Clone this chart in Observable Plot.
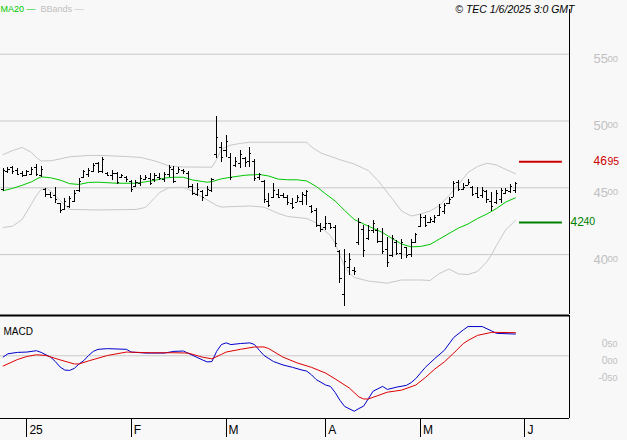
<!DOCTYPE html>
<html><head><meta charset="utf-8">
<script src="https://cdn.jsdelivr.net/npm/d3@7"></script>
<script src="https://cdn.jsdelivr.net/npm/@observablehq/plot@0.6"></script>
<style>
html,body{margin:0;padding:0;background:#f8f8f8;}
#wrap{position:relative;width:627px;height:440px;overflow:hidden;background:#f8f8f8;font-family:"Liberation Sans",Arial,sans-serif;}
#wrap svg{position:absolute;left:0;overflow:visible;}
</style></head><body><div id="wrap"></div>
<script>
// ---- OHLC (EUR), one entry per trading day, 23 Dec 2024 .. 30 May 2025 ----
const high = [46.42,46.54,46.62,46.42,46.22,46.29,46.54,46.72,46.59,44.93,
44.65,45.02,43.82,44.2,44.35,44.8,45.7,46.29,46.44,46.82,
46.89,47.27,46.15,46.29,46.15,46.0,45.85,45.55,45.55,45.92,
45.92,46.09,46.09,46.07,46.17,46.67,46.59,46.54,46.37,46.24,
45.25,45.34,44.8,45.1,45.7,50.34,48.41,48.91,47.54,47.29,
47.79,47.29,47.99,47.1,46.09,45.55,44.55,45.34,44.85,44.55,
44.42,44.18,44.42,44.67,44.8,43.68,43.43,42.3,42.85,42.35,
42.18,40.31,40.36,40.06,39.06,42.68,42.18,42.18,42.55,41.93,
41.93,41.3,41.43,41.06,41.11,40.55,41.11,41.6,43.0,42.93,
42.75,42.93,43.73,43.85,44.25,45.47,45.55,45.3,45.6,45.1,
45.0,45.0,44.8,44.67,44.8,44.93,44.93,45.25,45.42];
const low = [44.75,46.05,46.0,45.92,45.75,45.85,45.9,45.85,45.79,44.25,
44.2,43.82,43.08,43.3,43.45,43.9,44.65,45.7,45.77,46.14,
46.07,46.07,45.85,45.55,45.25,45.7,45.4,44.65,45.02,45.1,
45.55,45.17,45.42,45.55,45.42,45.79,45.34,46.05,46.0,44.93,
44.42,44.35,44.0,44.35,44.67,47.17,46.92,47.29,45.55,46.54,
46.42,46.54,46.54,45.5,45.55,43.8,43.55,44.18,44.18,44.18,
43.68,43.35,43.92,43.68,43.68,43.05,42.0,41.68,41.8,41.86,
40.55,37.86,36.11,38.44,38.44,40.68,39.76,41.06,41.56,40.81,
40.01,39.01,39.81,39.93,39.61,39.69,39.81,40.81,42.0,42.0,
42.35,42.35,42.85,43.0,43.75,44.25,44.75,44.8,45.17,44.35,
44.18,44.18,43.8,43.25,43.75,43.8,44.5,44.6,44.6];
const open = [44.9,46.2,46.5,46.3,46.1,45.9,46.0,46.5,45.9,44.9,
44.5,44.4,43.8,43.4,43.6,44.0,44.8,45.8,46.0,46.2,
46.8,46.2,46.1,45.9,46.1,45.8,45.8,45.5,45.1,45.3,
45.6,45.7,45.6,45.8,45.6,46.0,46.4,46.1,46.3,46.1,
45.1,44.5,44.7,44.4,44.8,47.5,48.0,47.8,47.3,46.7,
46.8,47.2,47.0,47.0,45.8,45.5,44.0,44.3,44.5,44.4,
44.3,43.8,43.9,44.0,44.4,43.6,43.3,42.2,42.0,42.3,
42.0,40.2,37.0,39.0,38.8,40.9,41.9,41.2,41.8,41.8,
41.0,40.4,39.9,40.9,40.1,40.5,40.0,40.9,42.1,42.8,
42.4,42.5,42.9,43.2,43.8,44.3,45.4,44.9,45.2,45.0,
44.6,44.4,44.7,44.0,43.9,44.1,44.6,44.7,44.8];
const close = [46.3,46.4,46.2,46.0,45.9,46.2,46.4,46.0,46.4,44.5,
44.3,44.1,43.3,44.0,44.2,44.6,45.5,46.2,46.3,46.7,
46.2,47.1,45.9,46.1,45.4,45.9,45.6,44.9,45.4,45.7,
45.8,45.3,45.9,45.7,46.0,46.5,45.5,46.4,46.2,45.1,
44.6,44.9,44.3,44.9,45.6,48.8,47.3,48.5,45.8,47.0,
47.5,46.9,47.6,45.7,46.0,44.1,43.7,44.8,44.3,44.3,
43.9,43.5,44.3,44.5,44.7,43.2,42.2,41.9,42.3,42.0,
40.8,38.2,39.5,39.6,38.7,42.4,40.3,41.8,42.3,41.0,
40.2,39.4,41.2,40.1,40.9,39.9,40.9,41.5,42.8,42.2,
42.6,42.8,43.5,43.7,44.1,45.3,44.9,45.0,45.4,44.5,
44.3,44.8,44.1,43.6,44.6,44.8,44.8,45.1,45.3];

// ---- MA20 and Bollinger bands (at bar indices) ----
const maIdx = [0,2,4,6,7,8,10,12,14,16,18,20,24,28,30,32,34,36,38,40,42,43,44,46,48,51,54,56,58,60,62,64,66,68,70,72,74,76,78,80,82,84,86,88,90,92,94,96,98,100,102,104,106,108];
const maVal = [44.78,44.96,45.19,45.45,45.65,45.82,45.75,45.58,45.31,45.25,45.4,45.42,45.34,45.34,45.45,45.56,45.73,45.79,45.79,45.58,45.47,45.42,45.46,45.67,45.79,45.94,46.0,45.88,45.65,45.6,45.6,45.51,45.1,44.54,44.01,43.3,42.63,42.29,41.97,41.65,41.2,40.79,40.58,40.61,40.76,41.17,41.58,41.99,42.29,42.7,43.04,43.45,43.94,44.25];
const ubIdx = [0,2,4,6,7,8,10,12,14,18,21,26,29,32,35,38,44,45,46,48,50,52,64,65,67,71,74,77,79,80,82,84,86,88,90,92,94,96,98,100,102,104,106,108];
const ubVal = [47.49,47.79,48.02,47.64,47.27,47.01,47.02,47.16,47.32,47.42,47.42,47.34,47.27,47.01,46.63,46.56,46.54,47.12,47.9,48.2,48.32,48.41,48.41,48.05,47.6,47.1,46.78,46.29,45.55,45.1,44.2,43.26,42.89,43.04,43.26,43.68,44.42,45.25,46.15,46.59,46.84,46.71,46.37,46.05];
const lbIdx = [0,2,4,6,7,8,9,10,12,14,20,28,30,32,33,35,38,40,42,45,46,52,55,58,60,64,66,67,69,70,71,72,73,74,77,81,84,88,90,92,94,96,98,100,102,103,104,106,108];
const lbVal = [42.03,42.13,42.63,43.82,44.42,44.87,44.99,44.76,44.05,43.38,43.34,43.38,43.53,44.27,44.65,45.02,45.04,44.72,44.3,43.68,43.56,43.64,43.55,43.08,42.85,42.7,42.37,42.03,41.43,40.83,39.93,39.11,38.62,38.29,38.02,37.86,38.1,38.1,38.06,38.59,38.92,38.55,38.51,38.73,39.48,40.01,40.68,41.88,42.55];

// ---- MACD (blue) and signal (red) ----
const mIdx = [0,1,3,5,7,8,10,11,12,13,14,15,16,17,18,19,20,22,26,27,30,34,36,38,40,42,43,44,45,46,47,48,50,52,53,54,55,57,59,61,63,64,65,66,68,69,70,71,72,74,75,76,77,78,80,81,83,85,86,87,89,91,93,95,97,98,101,103,104,108];
const mVal = [-0.035,0.06,0.10,0.11,0.15,0.10,-0.04,-0.17,-0.33,-0.42,-0.43,-0.37,-0.24,-0.14,0.01,0.13,0.19,0.21,0.19,0.11,0.08,0.08,0.13,0.14,0.01,-0.12,-0.18,-0.17,0.13,0.33,0.38,0.33,0.36,0.38,0.33,0.16,0.01,-0.17,-0.27,-0.34,-0.42,-0.45,-0.56,-0.70,-0.86,-0.90,-1.08,-1.31,-1.49,-1.63,-1.55,-1.48,-1.26,-1.04,-0.90,-0.99,-0.92,-0.87,-0.79,-0.67,-0.34,-0.08,0.16,0.54,0.76,0.86,0.86,0.73,0.66,0.64];
const sIdx = [0,3,5,7,9,12,15,16,18,22,26,31,36,39,42,44,46,47,50,53,55,56,59,62,65,68,70,73,75,76,77,79,81,84,87,89,91,93,95,97,98,100,103,108];
const sVal = [-0.30,-0.11,-0.02,0.03,0.01,-0.12,-0.24,-0.24,-0.15,0.01,0.11,0.09,0.09,0.08,-0.04,-0.09,0.04,0.11,0.19,0.26,0.26,0.21,-0.04,-0.21,-0.34,-0.51,-0.68,-0.95,-1.21,-1.27,-1.27,-1.17,-1.07,-1.01,-0.86,-0.64,-0.39,-0.18,0.08,0.36,0.45,0.60,0.69,0.68];

// ---- axes / levels ----
const priceTicks = [40,45,50,55];
const priceTickMain = ["40","45","50","55"];
const priceTickDec = ["00","00","00","00"];
const macdTicks = [0.5,0,-0.5];
const macdTickMain = ["0","0","-0"];
const macdTickDec = ["50","00","50"];
const monthIdx = [5,27,47,68,88,110];
const monthLabels = ["25","F","M","A","M","J"];
const resistance = 46.95, support = 42.40;

const bars = high.map((h,i)=>({i,h,l:low[i],o:open[i],c:close[i]}));
const pts = (ix,v)=>ix.map((i,k)=>({i,v:v[k]}));
const ma = pts(maIdx,maVal), ub = pts(ubIdx,ubVal), lb = pts(lbIdx,lbVal);
const mac = pts(mIdx,mVal), sig = pts(sIdx,sVal);
const last = high.length-1;
const lvl = [{y:resistance,c:"#cc0000"},{y:support,c:"#008000"}];

const xDomain = [-0.569, 119.4];
const FONT = "Liberation Sans, Arial, sans-serif";
const GRID = "#c8c8c8", LBL = "#c0c0c0";

const main = Plot.plot({
  width:627, height:315, marginTop:9, marginBottom:1, marginLeft:0, marginRight:58,
  style:{background:"transparent", fontFamily:FONT, overflow:"visible"},
  x:{domain:xDomain, axis:null},
  y:{domain:[35.516,58.346], axis:null},
  marks:[
    Plot.ruleY(priceTicks,{stroke:GRID, strokeWidth:1}),
    Plot.line(ub,{x:"i",y:"v",stroke:GRID,strokeWidth:1}),
    Plot.line(lb,{x:"i",y:"v",stroke:GRID,strokeWidth:1}),
    Plot.line(ma,{x:"i",y:"v",stroke:"#00c800",strokeWidth:1}),
    Plot.ruleX(bars,{x:"i",y1:"l",y2:"h",stroke:"#000",strokeWidth:1,shapeRendering:"crispEdges"}),
    Plot.ruleY(bars,{y:"o",x1:d=>d.i-0.45,x2:"i",stroke:"#000",strokeWidth:1,shapeRendering:"crispEdges"}),
    Plot.ruleY(bars,{y:"c",x1:"i",x2:d=>d.i+0.45,stroke:"#000",strokeWidth:1,shapeRendering:"crispEdges"}),
    Plot.ruleY(lvl,{y:"y",x1:last+0.85,x2:last+9.9,stroke:d=>d.c,strokeWidth:2}),
    Plot.ruleX([xDomain[1]],{stroke:"#000",strokeWidth:1}),
    // right price labels
    Plot.text(priceTicks,{y:d=>d,text:(d,i)=>priceTickMain[i],frameAnchor:"right",dx:24,textAnchor:"start",lineAnchor:"top",fill:LBL,fontSize:13}),
    Plot.text(priceTicks,{y:d=>d,text:(d,i)=>priceTickDec[i],frameAnchor:"right",dx:38,dy:0.7,textAnchor:"start",lineAnchor:"top",fill:LBL,fontSize:9.5}),
    // level labels
    Plot.text([resistance],{y:d=>d,text:d=>String(Math.floor(d)),frameAnchor:"right",dx:24,dy:-0.5,textAnchor:"start",fill:"#cc0000",fontSize:12}),
    Plot.text([resistance],{y:d=>d,text:d=>d.toFixed(2).slice(-2),frameAnchor:"right",dx:38,dy:-0.5,textAnchor:"start",fill:"#cc0000",fontSize:10.5}),
    Plot.text([support],{y:d=>d,text:d=>String(Math.floor(d)),frameAnchor:"right",dx:1,dy:-0.5,textAnchor:"start",fill:"#008000",fontSize:12}),
    Plot.text([support],{y:d=>d,text:d=>d.toFixed(2).slice(-2),frameAnchor:"right",dx:14,dy:-0.5,textAnchor:"start",fill:"#008000",fontSize:10.5}),
    // legend and copyright
    Plot.text(["MA20 \u2014"],{frameAnchor:"top-left",dx:0,dy:-4,textAnchor:"start",fill:"#00c800",fontSize:9}),
    Plot.text(["BBands \u2014"],{frameAnchor:"top-left",dx:40,dy:-4,textAnchor:"start",fill:LBL,fontSize:9}),
    Plot.text(["\u00a9 TEC 1/6/2025 3:0 GMT"],{frameAnchor:"top-right",dx:5,dy:-4,textAnchor:"end",fill:"#000",fontSize:10.5,fontStyle:"italic"})
  ]
});
main.style.top = "0px";

const mTop = 1.185, mBot = -1.844;
const macdPlot = Plot.plot({
  width:627, height:125, marginTop:0, marginBottom:22, marginLeft:0, marginRight:58,
  style:{background:"transparent", fontFamily:FONT, overflow:"visible"},
  x:{domain:xDomain, axis:null},
  y:{domain:[mBot,mTop], axis:null},
  marks:[
    Plot.ruleY([0],{stroke:GRID,strokeWidth:1}),
    Plot.line(mac,{x:"i",y:"v",stroke:"#0000cc",strokeWidth:1}),
    Plot.line(sig,{x:"i",y:"v",stroke:"#dd0000",strokeWidth:1}),
    Plot.ruleY([mTop],{stroke:"#000",strokeWidth:2}),
    Plot.ruleY([mBot],{stroke:"#000",strokeWidth:1}),
    Plot.ruleX([xDomain[1]],{stroke:"#000",strokeWidth:1}),
    Plot.ruleX(monthIdx,{x:d=>d,y1:mBot,y2:mBot-19/34,stroke:"#000",strokeWidth:1,shapeRendering:"crispEdges"}),
    Plot.text(monthIdx,{x:d=>d,text:(d,i)=>monthLabels[i],frameAnchor:"bottom",dx:2.5,dy:15,textAnchor:"start",fill:"#000",fontSize:12}),
    Plot.text(["MACD"],{frameAnchor:"top-left",dx:3,dy:12,textAnchor:"start",fill:"#000",fontSize:10}),
    Plot.text(macdTicks,{y:d=>d,text:(d,i)=>macdTickMain[i],frameAnchor:"right",dx:(d)=>0,textAnchor:"end",lineAnchor:"top",fill:LBL,fontSize:10.5,dx:38,dy:1}),
    Plot.text(macdTicks,{y:d=>d,text:(d,i)=>macdTickDec[i],frameAnchor:"right",dx:38,dy:1.5,textAnchor:"start",lineAnchor:"top",fill:LBL,fontSize:9})
  ]
});
macdPlot.style.top = "315px";

const wrap = document.getElementById("wrap");
wrap.appendChild(main);
wrap.appendChild(macdPlot);
</script></body></html>
